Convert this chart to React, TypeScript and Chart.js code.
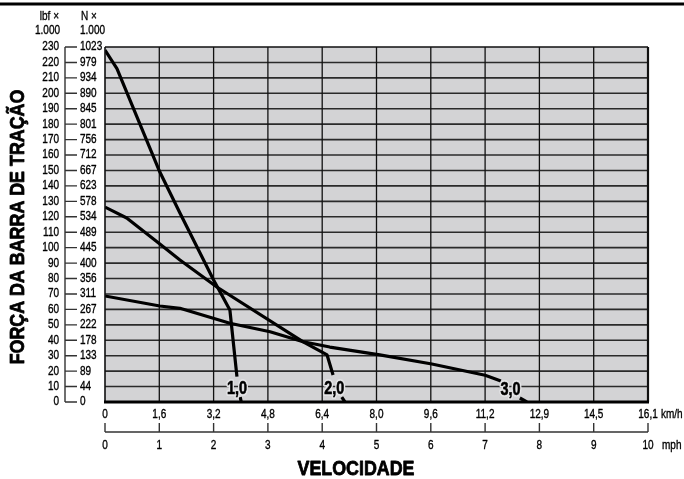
import React, { useEffect, useRef } from "react";
import { Chart, registerables } from "chart.js";

Chart.register(...registerables);

// ---- data ----
const mphTicks = [0, 1, 2, 3, 4, 5, 6, 7, 8, 9, 10];
const kmhLabels = ["0", "1,6", "3,2", "4,8", "6,4", "8,0", "9,6", "11,2", "12,9", "14,5", "16,1"];
const lbfTicks = [0, 10, 20, 30, 40, 50, 60, 70, 80, 90, 100, 110, 120, 130, 140, 150, 160, 170, 180, 190, 200, 210, 220, 230];
const nLabels = ["0", "44", "89", "133", "178", "222", "267", "311", "356", "400", "445", "489", "534", "578", "623", "667", "712", "756", "801", "845", "890", "934", "979", "1023"];

// curve 1,0 (null = break for the label)
const c1Mph = [0, 0.22, 1.01, 1.38, 2.0, 2.3, 2.43, 2.45, 2.49, 2.51];
const c1Lbf = [228, 216, 149, 122.4, 79, 59.6, 16.4, null, 3.2, 0];
// curve 2,0
const c2Mph = [0, 0.4, 1.01, 1.38, 2.06, 3.65, 4.09, 4.2, 4.28, 4.36, 4.42];
const c2Lbf = [126.3, 119.2, 102.4, 92, 74.5, 38.9, 30.5, 17.5, null, 3.2, 0];
// curve 3,0
const c3Mph = [0, 1.01, 1.38, 2.3, 3.04, 3.65, 4.14, 5.06, 6.02, 7.0, 7.09, 7.29, 7.45, 7.64, 7.77];
const c3Lbf = [68.7, 62.2, 60.7, 51, 45.5, 39, 35.6, 30.5, 24.6, 17.3, 16.2, 13.6, null, 2.6, 0];

const curveNames = ["1,0", "2,0", "3,0"];
const labelMph = [2.43, 4.22, 7.47];
const labelLbf = [8.7, 8.7, 7.8];

const FONT = "'Liberation Sans', Arimo, Arial, sans-serif";

const toPoints = (xs: number[], ys: (number | null)[]) => xs.map((x, i) => ({ x, y: ys[i] }));

function txt(ctx: any, s: string, x: number, y: number, font: string, align: string, sx: number, opts?: { halo?: string; bold?: number }) {
  ctx.save();
  ctx.translate(x, y);
  ctx.scale(sx, 1);
  ctx.font = font;
  ctx.textAlign = align;
  ctx.textBaseline = "middle";
  if (opts && opts.halo) {
    ctx.lineWidth = 4;
    ctx.lineJoin = "round";
    ctx.strokeStyle = opts.halo;
    ctx.strokeText(s, 0, 0);
  }
  ctx.fillText(s, 0, 0);
  if (opts && opts.bold) {
    ctx.lineWidth = opts.bold;
    ctx.lineJoin = "round";
    ctx.strokeStyle = ctx.fillStyle;
    ctx.strokeText(s, 0, 0);
  }
  ctx.restore();
}

const customPlugin = {
  id: "customDraw",
  beforeDatasetsDraw(chart: any) {
    const { ctx, chartArea: a, scales } = chart;
    const x = scales.x;
    const y = scales.y;
    ctx.save();
    ctx.fillStyle = "#d3d3d5";
    ctx.fillRect(a.left, a.top, a.right - a.left, a.bottom - a.top);
    ctx.strokeStyle = "#2a2a2a";
    ctx.lineWidth = 1.6;
    lbfTicks.forEach((v) => {
      if (v === 0 || v === 230) return;
      const py = y.getPixelForValue(v);
      ctx.beginPath();
      ctx.moveTo(a.left, py);
      ctx.lineTo(a.right, py);
      ctx.stroke();
    });
    ctx.strokeStyle = "#111";
    ctx.lineWidth = 1.3;
    mphTicks.forEach((v) => {
      if (v === 0 || v === 10) return;
      const px = x.getPixelForValue(v);
      ctx.beginPath();
      ctx.moveTo(px, a.top);
      ctx.lineTo(px, a.bottom);
      ctx.stroke();
    });
    ctx.restore();
  },
  afterDatasetsDraw(chart: any) {
    const { ctx, chartArea: a, scales, width } = chart;
    const x = scales.x;
    const y = scales.y;
    ctx.save();
    ctx.strokeStyle = "#111";
    ctx.lineWidth = 1.6;
    ctx.beginPath();
    ctx.moveTo(a.left, a.top);
    ctx.lineTo(a.right, a.top);
    ctx.moveTo(a.left, a.top);
    ctx.lineTo(a.left, a.bottom);
    ctx.stroke();
    ctx.lineWidth = 2.2;
    ctx.beginPath();
    ctx.moveTo(a.right, a.top);
    ctx.lineTo(a.right, a.bottom);
    ctx.stroke();
    ctx.lineWidth = 3;
    ctx.strokeStyle = "#000";
    ctx.beginPath();
    ctx.moveTo(a.left - 1, a.bottom);
    ctx.lineTo(a.right + 1, a.bottom);
    ctx.stroke();

    // top rule
    ctx.lineWidth = 3;
    ctx.beginPath();
    ctx.moveTo(0, 4);
    ctx.lineTo(width, 4);
    ctx.stroke();

    // curve labels
    ctx.fillStyle = "#000";
    curveNames.forEach((t, i) => {
      const px = x.getPixelForValue(labelMph[i]);
      const py = y.getPixelForValue(labelLbf[i]);
      txt(ctx, t, px, py, "bold 18px " + FONT, "center", 0.8, { halo: "#e4e4e6", bold: 0.6 });
    });

    // left axis
    const axX = 65;
    ctx.strokeStyle = "#333";
    ctx.lineWidth = 1.4;
    ctx.beginPath();
    ctx.moveTo(axX, y.getPixelForValue(230));
    ctx.lineTo(axX, y.getPixelForValue(0));
    lbfTicks.forEach((v) => {
      const py = y.getPixelForValue(v);
      ctx.moveTo(axX, py);
      ctx.lineTo(axX + 12, py);
    });
    ctx.stroke();
    ctx.fillStyle = "#000";
    const f = "12.5px " + FONT;
    const sx = 0.8;
    const o = { bold: 0.35 };
    lbfTicks.forEach((v, i) => {
      const py = y.getPixelForValue(v);
      txt(ctx, String(v), 59, py, f, "right", sx, o);
      txt(ctx, nLabels[i], 80, py, f, "left", sx, o);
    });
    txt(ctx, "lbf ×", 59, 17, f, "right", sx, o);
    txt(ctx, "1.000", 60, 31, f, "right", sx, o);
    txt(ctx, "N ×", 81, 17, f, "left", sx, o);
    txt(ctx, "1.000", 80, 31, f, "left", sx, o);

    // bottom axes
    const kmY = 415;
    const lineY = 432;
    const mphY = 446;
    mphTicks.forEach((v, i) => {
      const px = x.getPixelForValue(v);
      txt(ctx, kmhLabels[i], px, kmY, f, "center", sx, o);
      txt(ctx, String(v), px, mphY, f, "center", sx, o);
    });
    txt(ctx, "km/h", 661, kmY, f, "left", sx, o);
    txt(ctx, "mph", 662, mphY, f, "left", sx, o);
    ctx.strokeStyle = "#333";
    ctx.lineWidth = 1.4;
    ctx.beginPath();
    ctx.moveTo(x.getPixelForValue(0), lineY);
    ctx.lineTo(x.getPixelForValue(10), lineY);
    mphTicks.forEach((v) => {
      const px = x.getPixelForValue(v);
      ctx.moveTo(px, lineY);
      ctx.lineTo(px, lineY - 9);
    });
    ctx.stroke();

    // titles
    ctx.fillStyle = "#000";
    txt(ctx, "VELOCIDADE", 356, 469, "bold 21px " + FONT, "center", 0.85, { bold: 0.8 });
    ctx.save();
    ctx.translate(18, 227);
    ctx.rotate(-Math.PI / 2);
    txt(ctx, "FORÇA DA BARRA DE TRAÇÃO", 0, 0, "bold 21px " + FONT, "center", 0.85, { bold: 0.8 });
    ctx.restore();

    ctx.restore();
  },
};

export default function App() {
  const ref = useRef<HTMLCanvasElement | null>(null);
  useEffect(() => {
    if (!ref.current) return;
    const lineStyle = {
      borderColor: "#000",
      borderWidth: 3.2,
      pointRadius: 0,
      tension: 0,
      spanGaps: false,
      fill: false,
      borderJoinStyle: "round" as const,
      borderCapStyle: "butt" as const,
    };
    const chart = new Chart(ref.current, {
      type: "line",
      data: {
        datasets: [
          { label: curveNames[0], data: toPoints(c1Mph, c1Lbf), ...lineStyle },
          { label: curveNames[1], data: toPoints(c2Mph, c2Lbf), ...lineStyle },
          { label: curveNames[2], data: toPoints(c3Mph, c3Lbf), ...lineStyle },
        ],
      },
      options: {
        animation: false,
        responsive: false,
        devicePixelRatio: 1,
        layout: { padding: { left: 105, top: 47, right: 36, bottom: 77 } },
        plugins: { legend: { display: false }, tooltip: { enabled: false } },
        scales: {
          x: { type: "linear", min: 0, max: 10, display: false },
          y: { type: "linear", min: 0, max: 230, display: false },
        },
        events: [],
      },
      plugins: [customPlugin],
    } as any);
    return () => chart.destroy();
  }, []);
  return (
    <div style={{ position: "absolute", left: 0, top: 0, width: 684, height: 479, background: "#fff" }}>
      <canvas ref={ref} width={684} height={479} style={{ display: "block" }} />
    </div>
  );
}
